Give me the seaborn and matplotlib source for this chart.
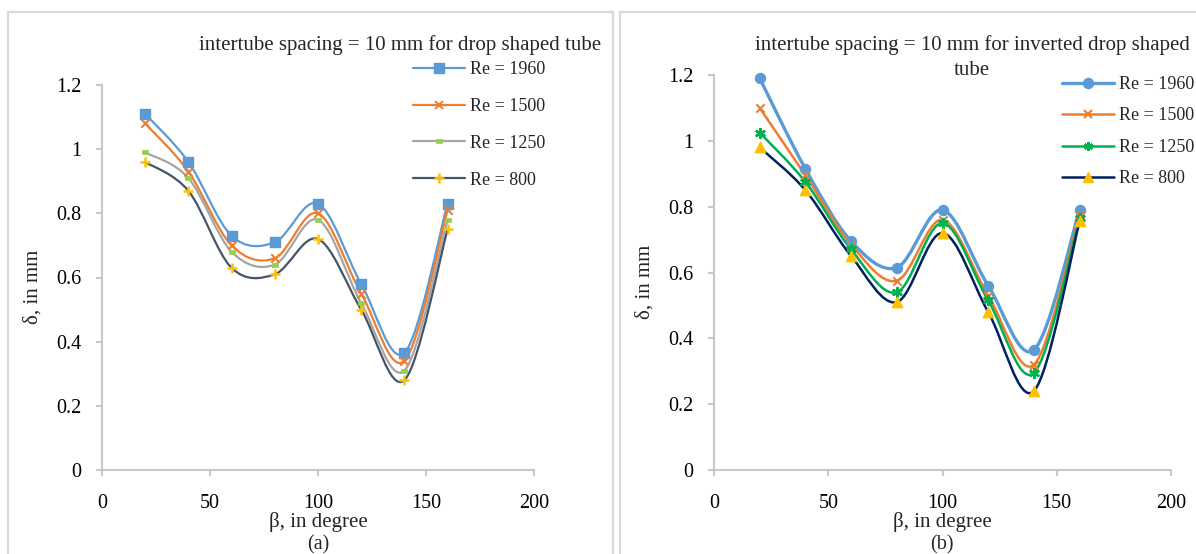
import numpy as np
import matplotlib
matplotlib.use('Agg')
import matplotlib.pyplot as plt
import seaborn as sns
from matplotlib.path import Path
from matplotlib.patches import PathPatch, Rectangle
from matplotlib.lines import Line2D

# values
beta = [20, 40, 60, 80, 100, 120, 140, 160]
re_labels = ['Re = 1960', 'Re = 1500', 'Re = 1250', 'Re = 800']

# (a) drop shaped tube
drop_1960 = [1.11, 0.96, 0.73, 0.71, 0.83, 0.58, 0.365, 0.83]
drop_1500 = [1.08, 0.93, 0.70, 0.66, 0.80, 0.55, 0.34, 0.81]
drop_1250 = [0.99, 0.91, 0.68, 0.64, 0.78, 0.52, 0.31, 0.78]
drop_800 = [0.96, 0.87, 0.63, 0.61, 0.72, 0.50, 0.28, 0.75]

# (b) inverted drop shaped tube
inv_1960 = [1.19, 0.915, 0.695, 0.615, 0.79, 0.56, 0.365, 0.79]
inv_1500 = [1.10, 0.895, 0.685, 0.575, 0.76, 0.53, 0.32, 0.775]
inv_1250 = [1.025, 0.875, 0.67, 0.54, 0.75, 0.515, 0.295, 0.765]
inv_800 = [0.98, 0.85, 0.65, 0.51, 0.72, 0.48, 0.24, 0.755]

W, H = 1196, 554
FONT = ['Liberation Serif', 'DejaVu Serif']

sns.set_style('white')
plt.rcParams['font.family'] = FONT
plt.rcParams['font.size'] = 14

dash = Path([(-1, -0.55), (1, -0.55), (1, 0.55), (-1, 0.55), (-1, -0.55)],
            [Path.MOVETO, Path.LINETO, Path.LINETO, Path.LINETO, Path.CLOSEPOLY])


def px(x, y):
    # pixel position (from top-left) -> figure fraction
    return x / W, 1 - y / H


def smooth_path(x, y):
    # excel-like smoothed line: catmull-rom as cubic bezier segments
    pts = np.column_stack([x, y]).astype(float)
    n = len(pts)
    verts = [pts[0]]
    codes = [Path.MOVETO]
    for i in range(n - 1):
        p0 = pts[max(i - 1, 0)]
        p1 = pts[i]
        p2 = pts[i + 1]
        p3 = pts[min(i + 2, n - 1)]
        verts += [p1 + (p2 - p0) / 6, p2 - (p3 - p1) / 6, p2]
        codes += [Path.CURVE4] * 3
    return Path(verts, codes)


def style_axes(ax):
    ax.set_xlim(0, 200)
    ax.set_ylim(0, 1.2)
    ax.set_xticks([0, 50, 100, 150, 200])
    ax.set_yticks([0, 0.2, 0.4, 0.6, 0.8, 1.0, 1.2])
    ax.set_yticklabels(['0', '0.2', '0.4', '0.6', '0.8', '1', '1.2'])
    for s in ['top', 'right']:
        ax.spines[s].set_visible(False)
    for s in ['left', 'bottom']:
        ax.spines[s].set_color('#C8C8C8')
        ax.spines[s].set_linewidth(1.5)
    ax.tick_params(axis='both', colors='#C8C8C8', labelcolor='black',
                   length=4, width=1.5, labelsize=14.5, direction='out')
    ax.tick_params(axis='x', pad=13, bottom=True)
    ax.tick_params(axis='y', pad=11, left=True)
    ax.grid(False)
    ax.set_facecolor('none')


def draw_panel(ax, series):
    handles = []
    for vals, lab, lc, lw, mk, mc, s, mew in series:
        ax.add_patch(PathPatch(smooth_path(beta, vals), fill=False,
                               edgecolor=lc, lw=lw, zorder=2, capstyle='round'))
        sns.scatterplot(x=beta, y=vals, ax=ax, marker=mk, color=mc, s=s,
                        edgecolor=mc, linewidth=mew, zorder=3, legend=False,
                        clip_on=False)
        handles.append(Line2D([], [], color=lc, lw=lw, marker=mk,
                              markersize=np.sqrt(s), markerfacecolor=mc,
                              markeredgecolor=mc, markeredgewidth=mew, label=lab))
    style_axes(ax)
    return handles


fig = plt.figure(figsize=(W / 100, H / 100), dpi=100)

# panel frames
fig.patches.append(Rectangle(px(8, 600), (613 - 8) / W, (600 - 12) / H,
                             transform=fig.transFigure, fill=False,
                             edgecolor='#D9D9D9', lw=1.6))
fig.patches.append(Rectangle(px(620, 600), (1240 - 620) / W, (600 - 12) / H,
                             transform=fig.transFigure, fill=False,
                             edgecolor='#D9D9D9', lw=1.6))

ax1 = fig.add_axes([102 / W, (H - 470) / H, 432 / W, 385 / H])
ax2 = fig.add_axes([714 / W, (H - 470) / H, 457 / W, 395 / H])

series_a = [
    (drop_1960, re_labels[0], '#5B9BD5', 1.6, 's', '#5B9BD5', 58, 1.0),
    (drop_1500, re_labels[1], '#ED7D31', 1.6, 'x', '#ED7D31', 36, 1.5),
    (drop_1250, re_labels[2], '#A5A5A5', 1.6, dash, '#92D050', 22, 0.5),
    (drop_800, re_labels[3], '#44546A', 1.6, '+', '#FFC000', 50, 1.8),
]
series_b = [
    (inv_1960, re_labels[0], '#5B9BD5', 2.4, 'o', '#5B9BD5', 52, 1.0),
    (inv_1500, re_labels[1], '#ED7D31', 1.8, 'x', '#ED7D31', 36, 1.5),
    (inv_1250, re_labels[2], '#00B050', 1.8, (6, 2, 0), '#00B050', 40, 1.8),
    (inv_800, re_labels[3], '#002060', 1.8, '^', '#FFC000', 56, 1.0),
]

h1 = draw_panel(ax1, series_a)
h2 = draw_panel(ax2, series_b)

fig.legend(handles=h1, loc='upper left', bbox_to_anchor=px(413, 61),
           frameon=False, fontsize=13, handlelength=2.9, handletextpad=0.28,
           labelspacing=1.1, borderpad=0, borderaxespad=0)
fig.legend(handles=h2, loc='upper left', bbox_to_anchor=px(1062, 76),
           frameon=False, fontsize=13, handlelength=2.9, handletextpad=0.28,
           labelspacing=0.8, borderpad=0, borderaxespad=0)

# titles
fig.text(*px(400, 50), 'intertube spacing = 10 mm for drop shaped tube',
         ha='center', va='baseline', fontsize=15)
fig.text(*px(972, 50), 'intertube spacing = 10 mm for inverted drop shaped',
         ha='center', va='baseline', fontsize=15)
fig.text(*px(972, 75), 'tube', ha='center', va='baseline', fontsize=15)

# axis labels and panel tags
for cx, cy, tag in [(318, 522, '(a)'), (942, 522, '(b)')]:
    fig.text(*px(cx, cy), '\u03b2, in degree', ha='center', va='center', fontsize=15)
    fig.text(*px(cx, cy + 23), tag, ha='center', va='center', fontsize=14.5)
fig.text(*px(33, 287), '\u03b4, in mm', rotation=90, ha='center', va='center', fontsize=15)
fig.text(*px(645, 282), '\u03b4, in mm', rotation=90, ha='center', va='center', fontsize=15)

fig.savefig('out.png', dpi=100)
